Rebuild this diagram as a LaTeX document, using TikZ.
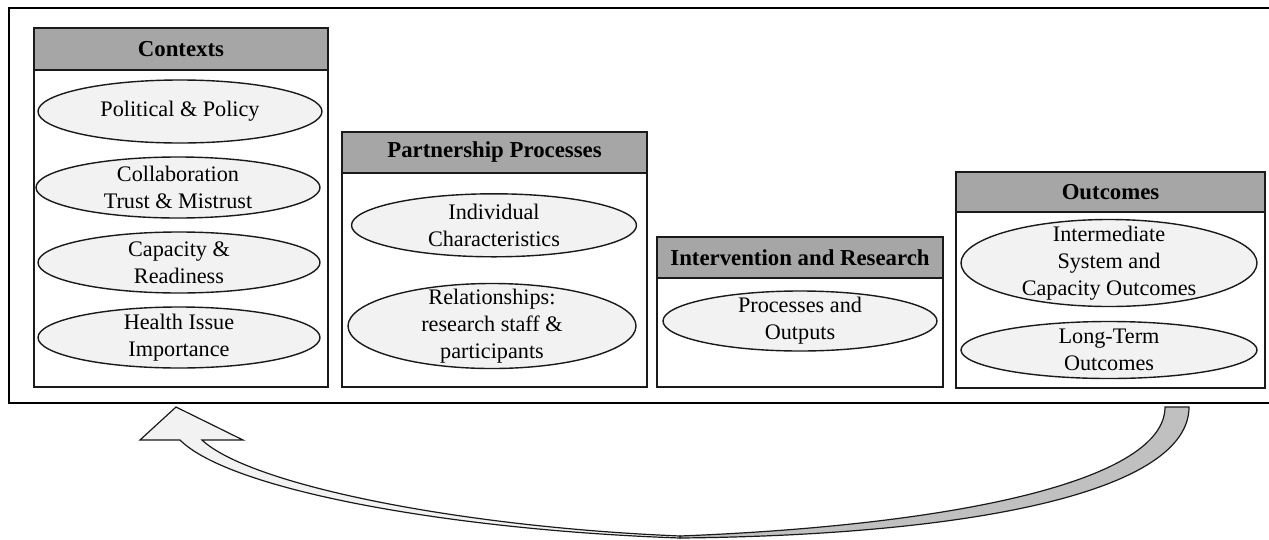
\documentclass[tikz,border=0pt]{standalone}
\usepackage{fontspec}
\setmainfont{Liberation Serif}
\usetikzlibrary{shapes.geometric}
\definecolor{hdrgray}{HTML}{A6A6A6}
\definecolor{ovalfill}{HTML}{F2F2F2}
\definecolor{tailgray}{HTML}{C0C0C0}
\definecolor{linecol}{HTML}{1A1A1A}
\tikzset{
  hdr/.style={draw=linecol, line width=1.8pt, fill=hdrgray, rectangle, inner sep=0pt,
    font=\fontsize{22.8}{26.5}\selectfont\bfseries},
  panel/.style={draw=linecol, line width=1.8pt, fill=white, rectangle, inner sep=0pt},
  oval/.style={draw=linecol, line width=1.4pt, fill=ovalfill, ellipse, inner sep=0pt},
  txt/.style={align=center, inner sep=0pt, font=\fontsize{22.2}{26.7}\selectfont},
  frame/.style={draw=black, line width=2.4pt},
  arrowline/.style={draw=linecol, line width=1.2pt, line join=miter}
}
\begin{document}
\begin{tikzpicture}[x=1pt, y=-1pt]
\useasboundingbox (0,0) rectangle (1269,539);
% outer frame (open at the right edge)
\draw[frame] (1272,8) -- (9,8) -- (9,403) -- (1272,403);

% Contexts
\node[panel, minimum width=294pt, minimum height=317pt] (ctxb) at (181,228.5) {};
\node[hdr, minimum width=294pt, minimum height=42pt] (ctxh) at (181,49) {Contexts};
\node[oval, minimum width=284pt, minimum height=63pt] (c1) at (180,111.5) {};
\node[txt] (c1t) at (c1) {Political \& Policy};
\node[oval, minimum width=284pt, minimum height=61pt] (c2) at (178,187.5) {};
\node[txt] (c2t) at (c2) {Collaboration\\Trust \& Mistrust};
\node[oval, minimum width=282pt, minimum height=61pt] (c3) at (179,262.5) {};
\node[txt] (c3t) at (c3) {Capacity \&\\Readiness};
\node[oval, minimum width=282pt, minimum height=61pt] (c4) at (179,337.5) {};
\node[txt] (c4t) at (c4) {Health Issue\\Importance};

% Partnership Processes
\node[panel, minimum width=305pt, minimum height=214pt] (ppb) at (494.5,280) {};
\node[hdr, minimum width=305pt, minimum height=41pt] (pph) at (494.5,152.5) {Partnership Processes};
\node[oval, minimum width=285pt, minimum height=63pt] (p1) at (494,225.3) {};
\node[txt] (p1t) at (p1) {Individual\\Characteristics};
\node[oval, minimum width=288pt, minimum height=85pt] (p2) at (492,326) {};
\node[txt] (p2t) at (p2) {Relationships:\\research staff \&\\participants};

% Intervention and Research
\node[panel, minimum width=286pt, minimum height=109pt] (irb) at (800,332.5) {};
\node[hdr, minimum width=286pt, minimum height=41pt] (irh) at (800,257.5) {Intervention and Research};
\node[oval, minimum width=274pt, minimum height=60pt] (i1) at (800,321) {};
\node[txt] (i1t) at (i1) {Processes and\\Outputs};

% Outcomes
\node[panel, minimum width=309pt, minimum height=176pt] (ocb) at (1110.5,300) {};
\node[hdr, minimum width=309pt, minimum height=40pt] (och) at (1110.5,192) {Outcomes};
\node[oval, minimum width=296pt, minimum height=87pt] (o1) at (1109,263) {};
\node[txt] (o1t) at (o1) {Intermediate\\System and\\Capacity Outcomes};
\node[oval, minimum width=296pt, minimum height=57pt] (o2) at (1109,350) {};
\node[txt] (o2t) at (o2) {Long-Term\\Outcomes};

% curved feedback arrow
\path[arrowline, fill=tailgray] (1165,407) -- (1189,407)
  .. controls (1189,490) and (980,535) .. (680,538) -- (680,536)
  .. controls (960,525) and (1165,480) .. (1165,407) -- cycle;
\path[arrowline, fill=ovalfill] (680,538)
  .. controls (450,530) and (230,490) .. (180,440)
  -- (140,440) -- (176,407) -- (243,440) -- (202,440)
  .. controls (250,485) and (460,527) .. (680,536) -- cycle;
\end{tikzpicture}
\end{document}
